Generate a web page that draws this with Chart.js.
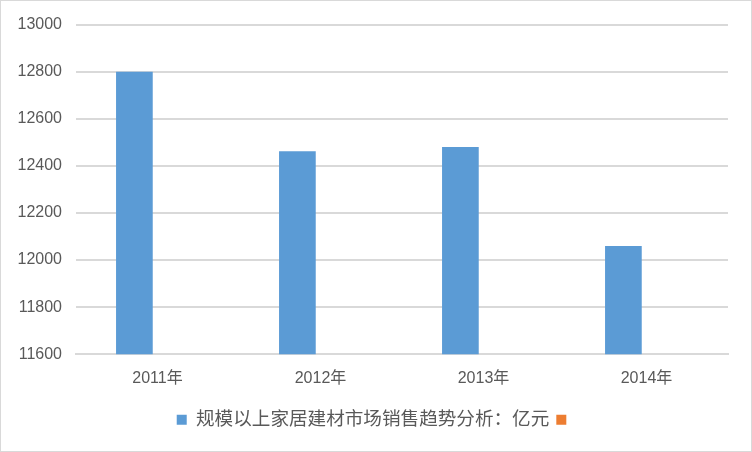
<!DOCTYPE html>
<html lang="zh">
<head>
    <meta charset="UTF-8">
    <title>规模以上家居建材市场销售趋势分析</title>
    <style>
        html, body { margin: 0; padding: 0; background: #fff; }
        /* outer frame like the exported chart border */
        .frame {
            width: 752px;
            height: 452px;
            box-sizing: border-box;
            border: 1px solid #d9d9d9;
            position: relative;
        }
        .frame canvas { display: block; }
    </style>
</head>
<body>
    <div class="frame">
        <canvas id="chart" width="750" height="450"></canvas>
    </div>

    <script src="https://cdn.jsdelivr.net/npm/chart.js"></script>
    <script>
        const categories = ['2011年', '2012年', '2013年', '2014年'];
        const salesValues = [12800, 12462, 12480, 12060];
        const emptySeries = [null, null, null, null];
        // second series has no name in the source; blank label keeps its legend slot
        const seriesNames = ['规模以上家居建材市场销售趋势分析：亿元', '          '];
        const yTicks = { min: 11600, max: 13000, step: 200 };

        const fontFamily = '"Liberation Sans", "Noto Sans CJK SC", sans-serif';
        const textColor = '#595959';
        const gridColor = '#d9d9d9';

        new Chart(document.getElementById('chart').getContext('2d'), {
            type: 'bar',
            data: {
                labels: categories,
                datasets: [
                    { label: seriesNames[0], data: salesValues, backgroundColor: '#5b9bd5' },
                    { label: seriesNames[1], data: emptySeries, backgroundColor: '#ed7d31' }
                ]
            },
            options: {
                responsive: false,
                animation: false,
                categoryPercentage: 0.567,
                barPercentage: 0.794,
                layout: { padding: { left: 0, right: 23, top: 16, bottom: 12 } },
                plugins: {
                    tooltip: { enabled: false },
                    legend: {
                        position: 'bottom',
                        fullSize: false,
                        labels: {
                            color: textColor,
                            font: { family: fontFamily, size: 18.6 },
                            boxWidth: 10,
                            boxHeight: 10,
                            padding: 7
                        }
                    }
                },
                scales: {
                    x: {
                        grid: { display: false, drawTicks: false },
                        border: { display: true, color: gridColor, width: 2 },
                        ticks: { color: textColor, font: { family: fontFamily, size: 16 }, padding: 15 }
                    },
                    y: {
                        min: yTicks.min,
                        max: yTicks.max,
                        afterFit: scale => { scale.width = 75; },
                        grid: { color: gridColor, lineWidth: 2, drawTicks: false },
                        border: { display: false },
                        ticks: {
                            stepSize: yTicks.step,
                            color: textColor,
                            font: { family: fontFamily, size: 16 },
                            padding: 14,
                            callback: value => String(value)
                        }
                    }
                }
            }
        });
    </script>
</body>
</html>
